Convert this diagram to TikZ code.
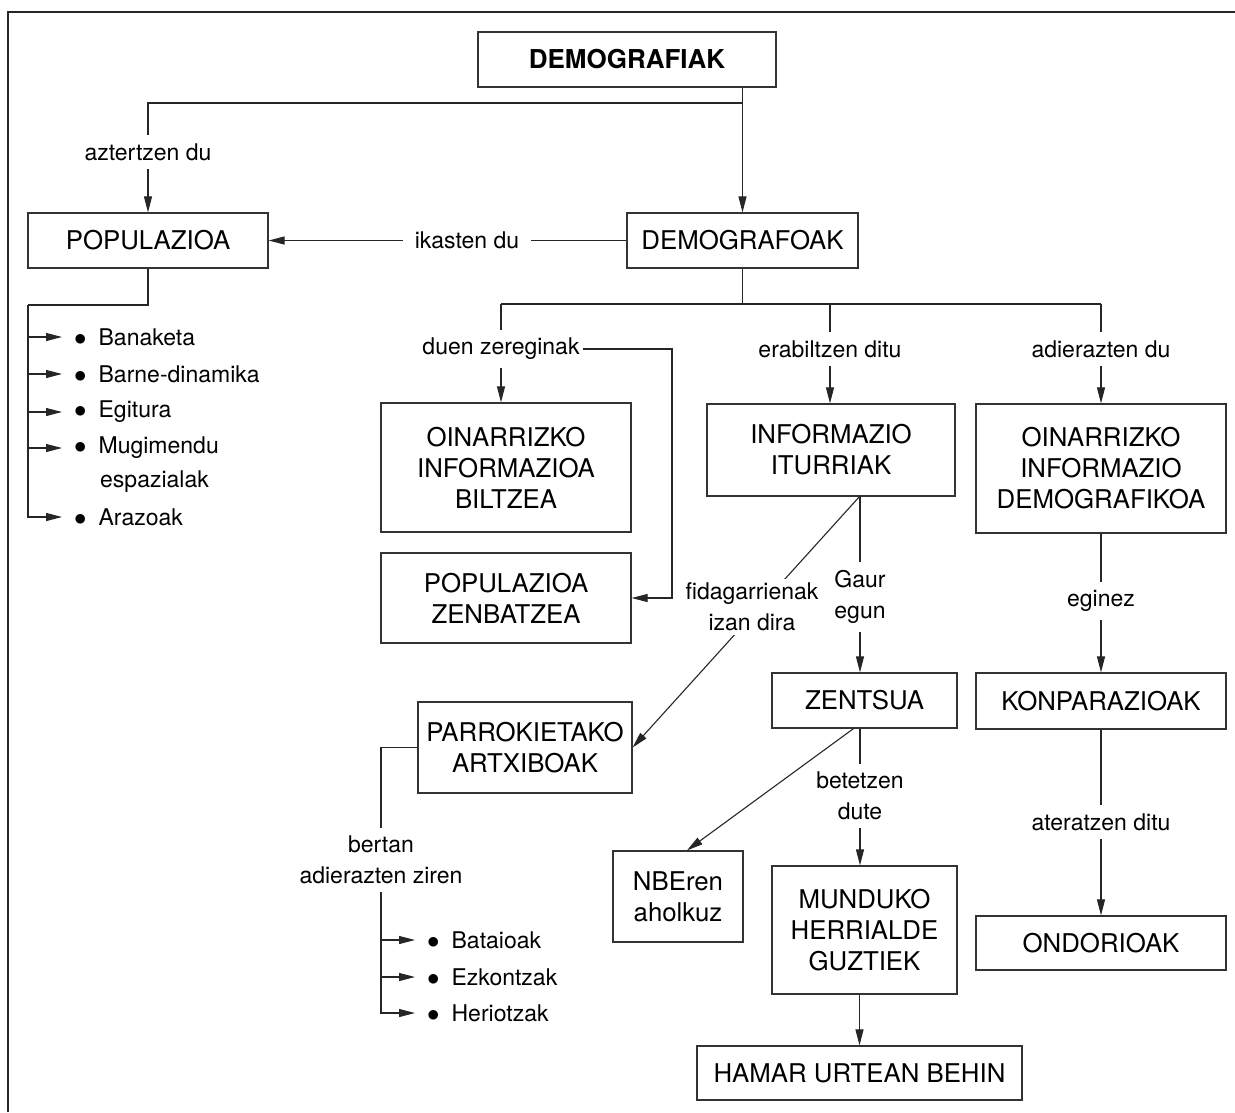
\documentclass[tikz,border=0pt]{standalone}
\usepackage{fontspec}
\setmainfont{TeX Gyre Heros}
\usetikzlibrary{arrows.meta}

\newcommand{\boxfont}{\fontsize{25.8}{31}\selectfont}
\newcommand{\lblfont}{\fontsize{23}{31}\selectfont}
\newcommand{\dotitem}{$\bullet$\hspace{12pt}}

\tikzset{
  box/.style={draw=black!80, line width=1.2pt, align=center, inner sep=0pt, font=\boxfont},
  lbl/.style={align=center, inner xsep=12pt, inner ysep=8pt, font=\lblfont},
  item/.style={anchor=west, inner xsep=12pt, inner ysep=0pt, font=\lblfont},
  link/.style={line width=1.1pt, draw=black!85},
  arr/.style={link, -{Triangle[length=16pt,width=8pt]}},
}

\begin{document}
\begin{tikzpicture}[x=1pt,y=-1pt]
\useasboundingbox (0,0) rectangle (1235,1112);
% Frame
\draw[line width=2pt, black!85] (8,1112) -- (8,12) -- (1235,12);

% Boxes
\node[box, minimum width=298, minimum height=55, font=\fontsize{26}{31}\selectfont\bfseries] (demia) at (627,59.5) {DEMOGRAFIAK};
\node[box, minimum width=240, minimum height=55] (popul) at (148,240.5) {POPULAZIOA};
\node[box, minimum width=231, minimum height=55] (demfo) at (742.5,240.5) {DEMOGRAFOAK};
\node[box, minimum width=250, minimum height=129] (oinbil) at (506,467.5) {OINARRIZKO\\INFORMAZIOA\\BILTZEA};
\node[box, minimum width=250, minimum height=90] (popzen) at (506,598) {POPULAZIOA\\ZENBATZEA};
\node[box, minimum width=248, minimum height=92] (iturri) at (831,450) {INFORMAZIO\\ITURRIAK};
\node[box, minimum width=250, minimum height=129] (oindem) at (1101,468.5) {OINARRIZKO\\INFORMAZIO\\DEMOGRAFIKOA};
\node[box, minimum width=185, minimum height=55] (zentsu) at (864.5,700.5) {ZENTSUA};
\node[box, minimum width=250, minimum height=56] (konpa) at (1101,701) {KONPARAZIOAK};
\node[box, minimum width=214, minimum height=91] (parro) at (525,747.5) {PARROKIETAKO\\ARTXIBOAK};
\node[box, minimum width=130, minimum height=91] (nbe) at (678,896.5) {NBEren\\aholkuz};
\node[box, minimum width=185, minimum height=128] (mundu) at (864.5,930) {MUNDUKO\\HERRIALDE\\GUZTIEK};
\node[box, minimum width=250, minimum height=54] (ondor) at (1101,943) {ONDORIOAK};
\node[box, minimum width=325, minimum height=54] (hamar) at (859.5,1073) {HAMAR URTEAN BEHIN};

% Labels
\node[lbl] (azt) at (148,152) {aztertzen du};
\node[lbl] (ika) at (467,240.5) {ikasten du};
\node[lbl] (zer) at (501,349) {duen zereginak};
\node[lbl] (erab) at (830,349) {erabiltzen ditu};
\node[lbl] (adie) at (1101,349) {adierazten du};
\node[lbl] (gaur) at (860,597) {Gaur\\egun};
\node[lbl] (egin) at (1101,601) {eginez};
\node[lbl] (bete) at (860,796) {betetzen\\dute};
\node[lbl] (ater) at (1101,822) {ateratzen ditu};
\node[lbl] (bert) at (381,860) {bertan\\adierazten ziren};

% Lists
\node[item] (ban) at (62,337) {\dotitem Banaketa};
\node[item] (bar) at (62,374) {\dotitem Barne-dinamika};
\node[item] (egi) at (62,412) {\dotitem Egitura};
\node[item] (mug) at (62,448) {\dotitem Mugimendu};
\node[item, inner xsep=0pt] (esp) at (100,482) {espazialak};
\node[item] (ara) at (62,517) {\dotitem Arazoak};
\node[item] (bat) at (415,940) {\dotitem Bataioak};
\node[item] (ezk) at (415,977) {\dotitem Ezkontzak};
\node[item] (her) at (415,1013) {\dotitem Heriotzak};

% Top connectors
\coordinate (j1) at (742.5,103);
\draw[arr] (demia.south -| j1) -- (demfo.north);
\draw[link] (j1) -| (azt.north);
\draw[arr] (azt) -- (popul);
\draw[link] (demfo) -- (ika);
\draw[arr] (ika) -- (popul);

% Population list
\coordinate (pj) at (28,305);
\draw[link] (popul.south) |- (pj);
\draw[arr] (pj) |- (ara.west);
\foreach \n in {ban,bar,egi,mug} \draw[arr] (pj |- \n.west) -- (\n.west);

% Demographers branch
\coordinate (j2) at (742.5,304);
\draw[link] (demfo.south) -- (j2);
\draw[link] (zer.north |- j2) -- (adie.north |- j2);
\foreach \n in {zer,erab,adie} \draw[link] (\n.north |- j2) -- (\n.north);
\draw[arr] (zer) -- (zer |- oinbil.north);
\draw[arr] (erab) -- (erab |- iturri.north);
\draw[arr] (adie) -- (oindem.north);
\coordinate (zb) at (672,349);
\draw[arr] ([xshift=-9]zer.east) -- (zb) |- (popzen.east);

% Sources
\coordinate (itb) at (860,496);
\draw[link] (itb) -- (gaur);
\draw[arr] (gaur) -- (gaur |- zentsu.north);
\draw[arr] (itb) -- node[lbl, fill=white, inner sep=4pt, pos=0.44, xshift=-8] (fida) {fidagarrienak\\izan dira} (parro.east);

% Parish list
\draw[link] (parro.west) -| (bert.north);
\draw[arr] (bert.south) |- (her.west);
\foreach \n in {bat,ezk} \draw[arr] (bert.south |- \n.west) -- (\n.west);

% Census
\draw[link] (zentsu.south -| bete) -- (bete);
\draw[arr] (bete) -- (bete |- mundu.north);
\draw[arr] ([xshift=-11]zentsu.south) -- ([xshift=9]nbe.north);
\draw[arr] (mundu.south -| hamar.north) -- (hamar.north);

% Right column
\draw[link] (oindem) -- (egin);
\draw[arr] (egin) -- (konpa);
\draw[link] (konpa) -- (ater);
\draw[arr] (ater) -- (ondor);
\end{tikzpicture}
\end{document}
